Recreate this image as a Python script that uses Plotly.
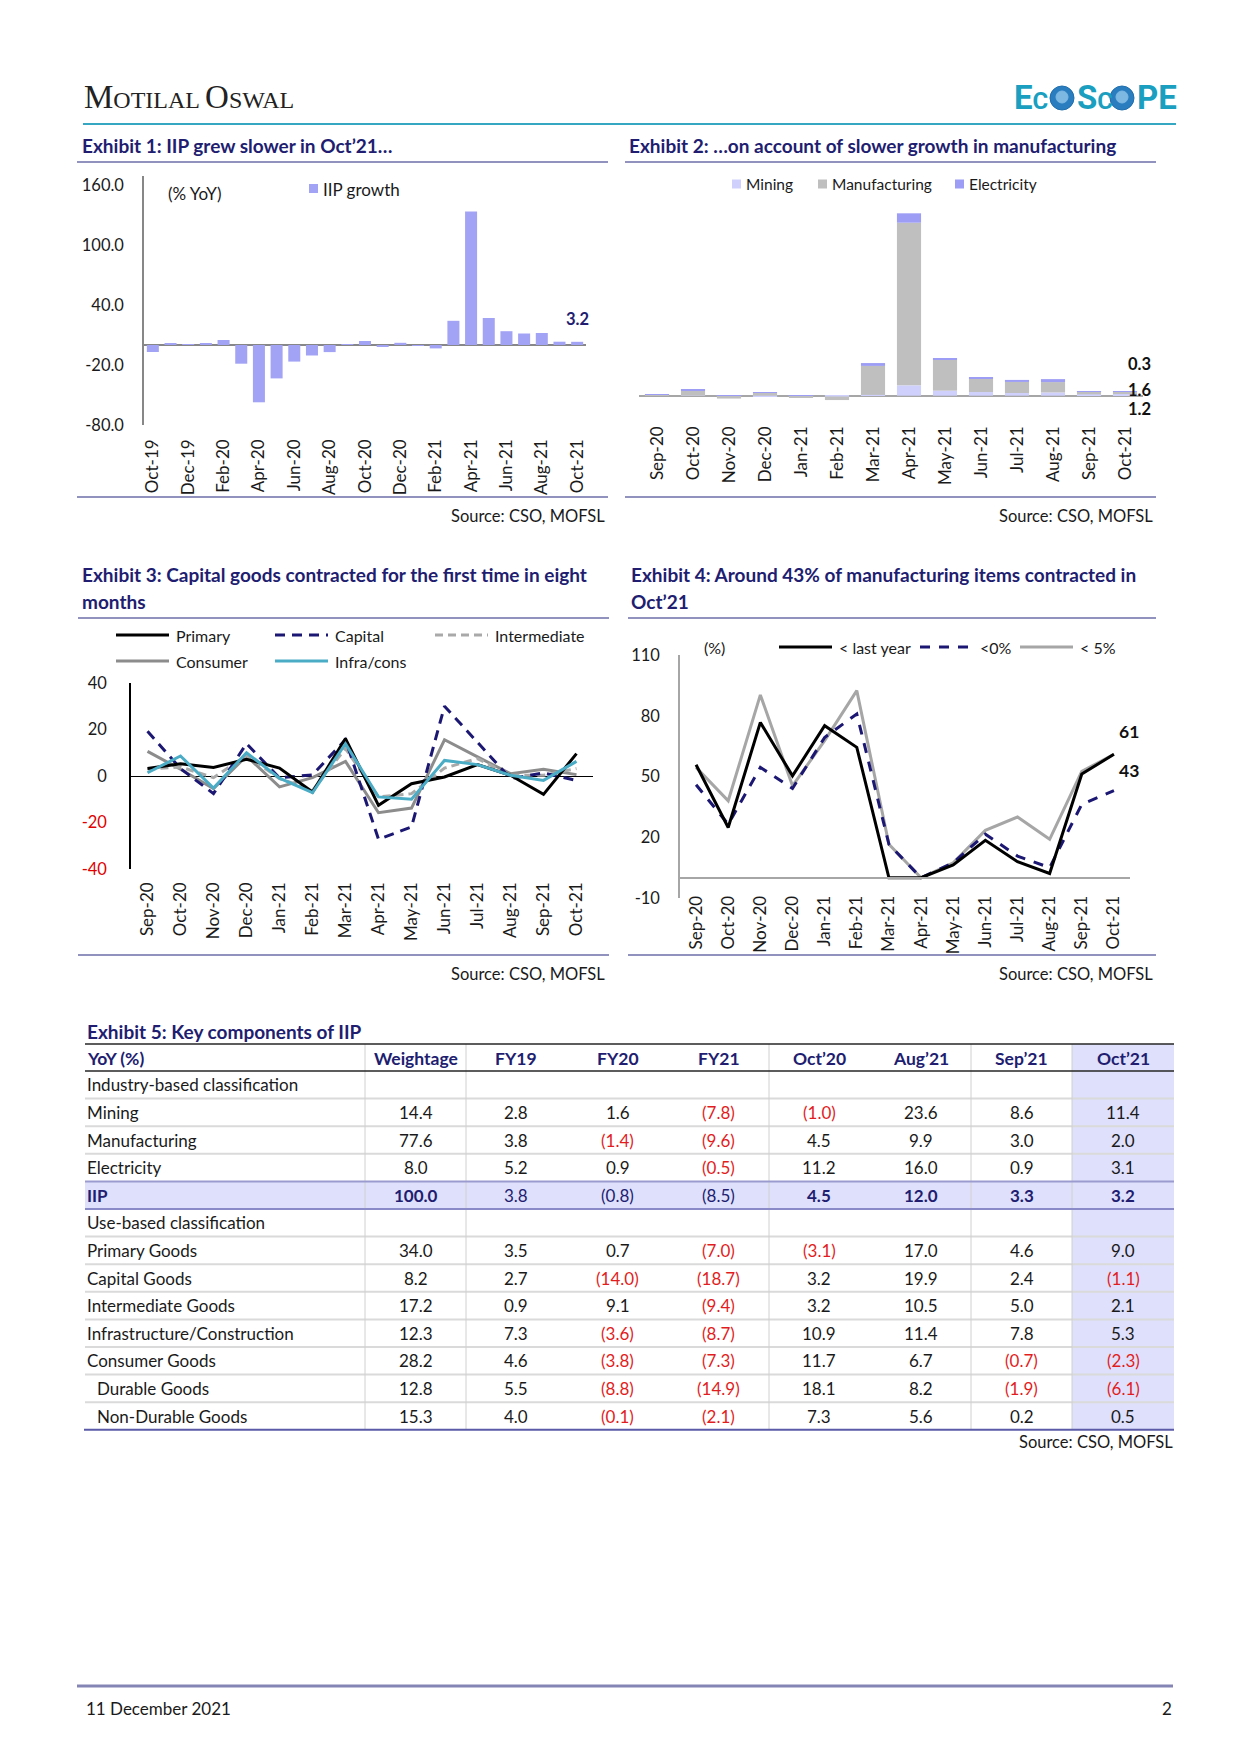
import plotly.graph_objects as go

# ---------------- data ----------------
months1 = ['Oct-19', 'Nov-19', 'Dec-19', 'Jan-20', 'Feb-20', 'Mar-20', 'Apr-20', 'May-20',
           'Jun-20', 'Jul-20', 'Aug-20', 'Sep-20', 'Oct-20', 'Nov-20', 'Dec-20', 'Jan-21',
           'Feb-21', 'Mar-21', 'Apr-21', 'May-21', 'Jun-21', 'Jul-21', 'Aug-21', 'Sep-21', 'Oct-21']
iip_growth = [-7.0, 2.0, 0.4, 2.0, 5.0, -18.7, -57.3, -33.4, -16.6, -10.5, -7.1, 0.5, 4.0,
              -1.6, 2.2, -0.6, -3.4, 24.2, 133.5, 27.0, 13.8, 11.5, 12.0, 3.3, 3.2]
iip_ticks = [-80, -20, 40, 100, 160]

months2 = ['Sep-20', 'Oct-20', 'Nov-20', 'Dec-20', 'Jan-21', 'Feb-21', 'Mar-21', 'Apr-21',
           'May-21', 'Jun-21', 'Jul-21', 'Aug-21', 'Sep-21', 'Oct-21']
mining_c = [0.0, -0.15, -0.9, -0.3, -0.5, -0.6, 0.6, 7.6, 3.7, 2.7, 2.0, 2.4, 1.0, 1.2]
manuf_c = [0.6, 3.5, -1.2, 2.1, -0.6, -2.6, 21.3, 119.6, 22.8, 9.8, 8.1, 7.6, 2.3, 1.6]
elec_c = [0.4, 0.9, 0.3, 0.5, 0.3, 0.0, 2.1, 6.9, 1.2, 1.2, 1.5, 2.2, 0.1, 0.3]

primary = [3.2, 5.3, 3.7, 7.2, 3.4, -6.9, 16.1, -12.6, -3.3, -0.4, 4.9, 0.3, -7.9, 9.6]
capital = [19.2, 3.2, -7.6, 13.9, -0.8, 0.5, 15.6, -27.2, -21.9, 30.0, 14.5, -1.1, 1.3, -1.9]
intermediate = [2.9, 3.9, -0.7, 8.9, -1.1, -6.2, 11.8, -9.0, -7.6, 3.4, 7.5, 0.3, 0.3, 3.2]
consumer = [10.6, 2.9, -5.4, 8.6, -4.7, -0.7, 6.3, -15.8, -13.8, 15.6, 8.2, 1.0, 2.9, 0.6]
infra = [1.4, 8.6, -5.2, 10.0, -0.9, -7.2, 13.9, -9.0, -10.0, 6.7, 4.9, 0.3, -1.9, 6.3]
use_ticks = [-40, -20, 0, 20, 40]

lt_last_year = [55.8, 24.8, 76.7, 50.3, 75.1, 64.4, 0.0, 0.0, 6.3, 18.5, 7.9, 2.1, 51.2, 61.0]
lt_0 = [45.9, 26.4, 54.5, 44.1, 69.3, 80.9, 16.5, 0.0, 7.4, 21.5, 10.7, 5.0, 36.3, 43.0]
lt_5 = [54.5, 38.0, 90.3, 45.4, 67.7, 92.4, 16.5, 0.0, 7.4, 23.4, 30.0, 19.0, 52.5, 61.0]
items_ticks = [-10, 20, 50, 80, 110]

table_header = ['YoY (%)', 'Weightage', 'FY19', 'FY20', 'FY21', 'Oct’20', 'Aug’21', 'Sep’21', 'Oct’21']
row_labels = ['Industry-based classification', 'Mining', 'Manufacturing', 'Electricity', 'IIP',
              'Use-based classification', 'Primary Goods', 'Capital Goods', 'Intermediate Goods',
              'Infrastructure/Construction', 'Consumer Goods', 'Durable Goods', 'Non-Durable Goods']
row_indent = [0, 0, 0, 0, 0, 0, 0, 0, 0, 0, 0, 1, 1]
weightage = [None, 14.4, 77.6, 8.0, 100.0, None, 34.0, 8.2, 17.2, 12.3, 28.2, 12.8, 15.3]
fy19 = [None, 2.8, 3.8, 5.2, 3.8, None, 3.5, 2.7, 0.9, 7.3, 4.6, 5.5, 4.0]
fy20 = [None, 1.6, -1.4, 0.9, -0.8, None, 0.7, -14.0, 9.1, -3.6, -3.8, -8.8, -0.1]
fy21 = [None, -7.8, -9.6, -0.5, -8.5, None, -7.0, -18.7, -9.4, -8.7, -7.3, -14.9, -2.1]
oct20 = [None, -1.0, 4.5, 11.2, 4.5, None, -3.1, 3.2, 3.2, 10.9, 11.7, 18.1, 7.3]
aug21 = [None, 23.6, 9.9, 16.0, 12.0, None, 17.0, 19.9, 10.5, 11.4, 6.7, 8.2, 5.6]
sep21 = [None, 8.6, 3.0, 0.9, 3.3, None, 4.6, 2.4, 5.0, 7.8, -0.7, -1.9, 0.2]
oct21 = [None, 11.4, 2.0, 3.1, 3.2, None, 9.0, -1.1, 2.1, 5.3, -2.3, -6.1, 0.5]

# ---------------- page helpers ----------------
W, H = 1241, 1755
FONT = 'Lato, Carlito, Calibri, sans-serif'
NAVY = '#211d70'
RED = '#e21d1d'
RULE = '#6e6ea8'
TITLE_SIZE = 19


def px(x):
    return x / W


def py(y):
    return 1 - y / H


annotations = []
shapes = []


def text(x, y, s, size=15, color='#1a1a1a', bold=False, xanchor='left', family=FONT):
    annotations.append(dict(x=px(x), y=py(y), xref='paper', yref='paper',
                            text=f'<b>{s}</b>' if bold else s, showarrow=False,
                            xanchor=xanchor, yanchor='middle', borderpad=0,
                            font=dict(family=family, size=size, color=color)))


def hline(x0, x1, y, color, width=1.5, dash=None):
    line = dict(color=color, width=width)
    if dash:
        line['dash'] = dash
    shapes.append(dict(type='line', xref='paper', yref='paper', x0=px(x0), x1=px(x1),
                       y0=py(y), y1=py(y), line=line))


def vline(x, y0, y1, color, width=1):
    shapes.append(dict(type='line', xref='paper', yref='paper', x0=px(x), x1=px(x),
                       y0=py(y0), y1=py(y1), line=dict(color=color, width=width)))


def rect(x0, y0, x1, y1, fill, line=None):
    shapes.append(dict(type='rect', xref='paper', yref='paper', x0=px(x0), x1=px(x1),
                       y0=py(y0), y1=py(y1), fillcolor=fill,
                       line=dict(width=0) if line is None else line, layer='below'))


def circle(cx, cy, r, fill, line):
    shapes.append(dict(type='circle', xref='paper', yref='paper', x0=px(cx - r), x1=px(cx + r),
                       y0=py(cy + r), y1=py(cy - r), fillcolor=fill, line=dict(color=line, width=1)))


# ---------------- header ----------------
text(75, 89, "<span style='font-size:33px'>M</span>OTILAL <span style='font-size:33px'>O</span>SWAL",
     size=24, color='#222222', family='Liberation Serif, DejaVu Serif, serif')
TEAL = '#1a9fc0'
LOGO_FONT = 'Liberation Sans Narrow, Roboto, Liberation Sans, sans-serif'
text(1005, 89, "E<span style='font-size:24px'>C</span>", size=33, color=TEAL, bold=True, family=LOGO_FONT)
text(1068, 89, "S<span style='font-size:24px'>C</span>", size=33, color=TEAL, bold=True, family=LOGO_FONT)
text(1128, 89, "PE", size=33, color=TEAL, bold=True, family=LOGO_FONT)
for cx in (1054, 1114):
    circle(cx, 90, 12, '#2a7dbf', '#1f6fae')
    circle(cx, 89, 6, '#7db8e2', '#7db8e2')
hline(75, 1168, 116, '#35a7c2', 2)

# ---------------- titles / rules ----------------
text(73, 138, 'Exhibit 1: IIP grew slower in Oct’21…', TITLE_SIZE, NAVY, True)
text(620, 138, 'Exhibit 2: …on account of slower growth in manufacturing', TITLE_SIZE, NAVY, True)
hline(69, 600, 154, RULE, 1.5)
hline(617, 1148, 154, RULE, 1.5)
hline(69, 600, 489, RULE, 1.5)
hline(617, 1148, 489, RULE, 1.5)
text(598, 508, 'Source: CSO, MOFSL', 16.5, '#1a1a1a', xanchor='right')
text(1146, 508, 'Source: CSO, MOFSL', 16.5, '#1a1a1a', xanchor='right')

text(73, 567, 'Exhibit 3: Capital goods contracted for the first time in eight', TITLE_SIZE, NAVY, True)
text(73, 593, 'months', TITLE_SIZE, NAVY, True)
text(622, 567, 'Exhibit 4: Around 43% of manufacturing items contracted in', TITLE_SIZE, NAVY, True)
text(622, 593, 'Oct’21', TITLE_SIZE, NAVY, True)
hline(70, 601, 610, RULE, 1.5)
hline(620, 1148, 610, RULE, 1.5)
hline(70, 601, 947, RULE, 1.5)
hline(620, 1148, 947, RULE, 1.5)
text(598, 966, 'Source: CSO, MOFSL', 16.5, '#1a1a1a', xanchor='right')
text(1146, 966, 'Source: CSO, MOFSL', 16.5, '#1a1a1a', xanchor='right')

# ---------------- figure & traces ----------------
BAR1 = '#a3a3f6'
C_MIN, C_MAN, C_ELE = '#cfd0fb', '#bfbfbf', '#9d9df5'
fig = go.Figure()

fig.add_trace(go.Bar(x=months1, y=iip_growth, marker_color=BAR1, width=0.68, xaxis='x', yaxis='y'))
for vals, col in ((mining_c, C_MIN), (manuf_c, C_MAN), (elec_c, C_ELE)):
    fig.add_trace(go.Bar(x=months2, y=vals, marker_color=col, width=0.67, xaxis='x2', yaxis='y2'))

S3 = [(consumer, dict(color='#8c8c8c', width=3)),
      (intermediate, dict(color='#a9a9a9', width=3, dash='8px,5px')),
      (capital, dict(color='#1b1772', width=3, dash='10px,7px')),
      (primary, dict(color='#000000', width=3)),
      (infra, dict(color='#4bacc6', width=3))]
for vals, ln in S3:
    fig.add_trace(go.Scatter(x=months2, y=vals, mode='lines', line=ln, xaxis='x3', yaxis='y3'))

S4 = [(lt_5, dict(color='#a6a6a6', width=3)),
      (lt_0, dict(color='#1b1772', width=3, dash='10px,9px')),
      (lt_last_year, dict(color='#000000', width=3))]
for vals, ln in S4:
    fig.add_trace(go.Scatter(x=months2, y=vals, mode='lines', line=ln, xaxis='x4', yaxis='y4'))

# ---------------- chart annotations & legends ----------------
annotations.append(dict(x='Oct-21', y=iip_growth[-1], xref='x', yref='y', text=f'<b>{iip_growth[-1]:.1f}</b>',
                        showarrow=False, yanchor='bottom', yshift=11,
                        font=dict(family=FONT, size=16.5, color=NAVY)))
text(159, 185, '(% YoY)', 17)
rect(301, 176, 310, 185, BAR1)
text(314, 181, 'IIP growth', 17)

for lx, col, name in ((724, C_MIN, 'Mining'), (810, C_MAN, 'Manufacturing'), (947, C_ELE, 'Electricity')):
    rect(lx, 171.5, lx + 9, 180.5, col)
    text(lx + 13, 176, name, 15.5)
for yy, val in ((356, elec_c[-1]), (382, manuf_c[-1]), (401, mining_c[-1])):
    text(1119, yy, f'{val:.1f}', 16.5, '#111111', True)

LEG3 = [(108, 627, '#000000', None, 'Primary'), (267, 627, '#1b1772', '10px,7px', 'Capital'),
        (427, 627, '#a9a9a9', '8px,5px', 'Intermediate'),
        (108, 653, '#8c8c8c', None, 'Consumer'), (267, 653, '#4bacc6', None, 'Infra/cons')]
for lx, ly, col, dash, name in LEG3:
    hline(lx, lx + 53, ly, col, 3, dash)
    text(lx + 59, ly, name, 16)

text(695, 639, '(%)', 16)
for lx, col, dash, name in ((771, '#000000', None, '< last year'), (912, '#1b1772', '10px,9px', '<0%'),
                            (1012, '#a6a6a6', None, '< 5%')):
    hline(lx, lx + 53, 639, col, 3, dash)
    text(lx + 59, 639, name, 16)
for vals, ys in ((lt_5, 10), (lt_0, 8)):
    annotations.append(dict(x='Oct-21', y=vals[-1], xref='x4', yref='y4', text=f'<b>{vals[-1]:.0f}</b>',
                            showarrow=False, xshift=15, yshift=ys, yanchor='bottom',
                            font=dict(family=FONT, size=17.5, color='#111111')))

# ---------------- table ----------------
cols_x = [77, 357, 458, 559, 660, 761, 862, 963, 1064, 1166]
T_TOP, HDR_B, ROW_H = 1036, 1063, 27.6
n_rows = len(row_labels)
T_BOT = HDR_B + n_rows * ROW_H
LAV = '#dfe0fb'
TBL = 17
iip_i = row_labels.index('IIP')
rect(cols_x[8], T_TOP, cols_x[9], T_BOT, LAV)
rect(cols_x[0], HDR_B + iip_i * ROW_H, cols_x[9], HDR_B + (iip_i + 1) * ROW_H, LAV)
for k in range(1, n_rows):
    yy = HDR_B + k * ROW_H
    if k in (iip_i, iip_i + 1):
        continue
    hline(cols_x[0], cols_x[9], yy, '#dadada', 2)
for vx in (cols_x[1], cols_x[2], cols_x[5], cols_x[7], cols_x[8]):
    vline(vx, T_TOP, T_BOT, '#d0d0d0', 1)
hline(cols_x[0], cols_x[9], HDR_B + iip_i * ROW_H, '#9b9bd0', 2)
hline(cols_x[0], cols_x[9], HDR_B + (iip_i + 1) * ROW_H, '#8a8ac8', 2)
hline(cols_x[0], cols_x[9], T_TOP, '#262626', 1.5)
hline(cols_x[0], cols_x[9], HDR_B, '#262626', 1.5)
hline(cols_x[0] - 1, cols_x[9], T_BOT, '#5a5aa8', 2)

text(78, 1023, 'Exhibit 5: Key components of IIP', TITLE_SIZE, NAVY, True)
text(78, 1050, table_header[0], 17.5, NAVY, True)
for c in range(1, 9):
    text((cols_x[c] + cols_x[c + 1]) / 2, 1050, table_header[c], 17.5, NAVY, True, 'center')

columns = [weightage, fy19, fy20, fy21, oct20, aug21, sep21, oct21]
for r in range(n_rows):
    yc = HDR_B + r * ROW_H + ROW_H / 2
    is_iip = r == iip_i
    text(78 + 10 * row_indent[r], yc, row_labels[r], TBL, NAVY if is_iip else '#1a1a1a', is_iip)
    for c, col in enumerate(columns):
        v = col[r]
        if v is None:
            continue
        s = f'({abs(v):.1f})' if v < 0 else f'{v:.1f}'
        if is_iip:
            colr, b = NAVY, c not in (1, 2, 3)
        else:
            colr, b = (RED if v < 0 else '#1a1a1a'), False
        text((cols_x[c + 1] + cols_x[c + 2]) / 2, yc, s, TBL, colr, b, 'center')
text(1166, 1434, 'Source: CSO, MOFSL', 16.5, '#1a1a1a', xanchor='right')

# ---------------- footer ----------------
hline(69, 1165, 1678, '#8585b5', 3)
text(77, 1700, '11 December 2021', 17)
text(1165, 1700, '2', 17, xanchor='right')

# ---------------- axes ----------------
TF = dict(family=FONT, size=16.5, color='#1a1a1a')
XF = dict(family=FONT, size=17, color='#1a1a1a')
base_x = dict(type='category', showgrid=False, zeroline=False, ticks='', tickangle=-90,
              tickfont=XF, showline=False)
y2_top = (387.7 - 200) / 1.36
y2_bot = -(405 - 387.7) / 1.36

fig.update_layout(
    width=W, height=H, margin=dict(l=0, r=0, t=0, b=0), template='none',
    paper_bgcolor='white', plot_bgcolor='white', showlegend=False, barmode='relative',
    font=dict(family=FONT, size=15, color='#1a1a1a'),
    xaxis=dict(base_x, domain=[px(136), px(578)], anchor='y', range=[-0.5, len(months1) - 0.5],
               tickvals=months1[::2], ticklabelstandoff=10),
    yaxis=dict(domain=[py(417), py(168)], anchor='x', range=[-80, 169], tickvals=iip_ticks,
               ticktext=[f'{v:.1f}' for v in iip_ticks], showline=True, linecolor='#878787',
               linewidth=1.5, ticks='', showgrid=False, zeroline=True, zerolinecolor='#878787',
               zerolinewidth=1.5, tickfont=TF, ticklabelstandoff=15),
    xaxis2=dict(base_x, domain=[px(631), px(1135)], anchor='y2', range=[-0.5, 13.5],
                ticklabelstandoff=9),
    yaxis2=dict(domain=[py(405), py(200)], anchor='x2', range=[y2_bot, y2_top], showticklabels=False,
                showline=False, ticks='', showgrid=False, zeroline=True, zerolinecolor='#a6a6a6',
                zerolinewidth=2),
    xaxis3=dict(base_x, domain=[px(123), px(585)], anchor='y3', range=[-0.5, 13.5],
                ticklabelstandoff=9),
    yaxis3=dict(domain=[py(861), py(675)], anchor='x3', range=[-40, 40], tickvals=use_ticks,
                ticktext=[f'<span style="color:#e00000">{v}</span>' if v < 0 else f'{v}' for v in use_ticks],
                showline=True, linecolor='#000000', linewidth=1.5, ticks='', showgrid=False,
                zeroline=True, zerolinecolor='#000000', zerolinewidth=1.2, tickfont=TF,
                ticklabelstandoff=19),
    xaxis4=dict(base_x, domain=[px(672), px(1122)], anchor='free', position=py(870),
                range=[-0.5, 13.5], showline=True, linecolor='#a6a6a6', linewidth=2,
                ticklabelstandoff=10),
    yaxis4=dict(domain=[py(890), py(647)], anchor='x4', range=[-10, 110], tickvals=items_ticks,
                ticktext=[f'{v}' for v in items_ticks], showline=True, linecolor='#a6a6a6',
                linewidth=1.5, ticks='', showgrid=False, zeroline=False, tickfont=TF,
                ticklabelstandoff=15),
    annotations=annotations, shapes=shapes,
)

fig.write_html('out.html')
